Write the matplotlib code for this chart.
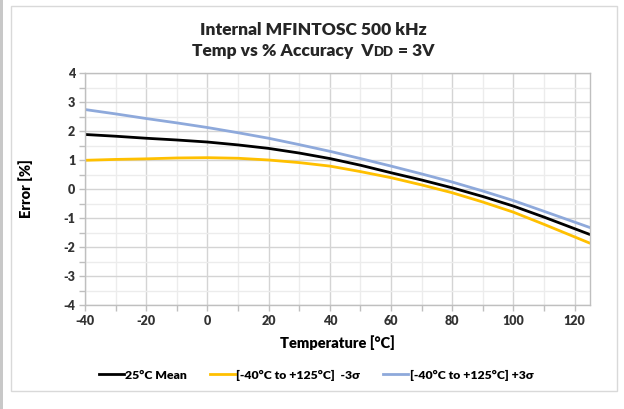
import matplotlib
matplotlib.use("Agg")
import matplotlib.pyplot as plt
from matplotlib.patches import Rectangle
from matplotlib.lines import Line2D
import numpy as np

temps = [-40, -30, -20, -10, 0, 10, 20, 30, 40, 50, 60, 70, 80, 90, 100, 110, 125]
mean_25c = [1.88, 1.82, 1.75, 1.69, 1.62, 1.52, 1.40, 1.24, 1.05, 0.82, 0.56, 0.31, 0.04, -0.26, -0.59, -0.97, -1.57]
minus_3s = [0.99, 1.02, 1.04, 1.07, 1.08, 1.06, 1.00, 0.91, 0.79, 0.60, 0.39, 0.14, -0.13, -0.45, -0.80, -1.22, -1.87]
plus_3s = [2.74, 2.59, 2.43, 2.28, 2.12, 1.94, 1.75, 1.53, 1.30, 1.05, 0.79, 0.52, 0.24, -0.07, -0.40, -0.77, -1.33]

series_labels = ["25°C Mean", "[-40°C to +125°C]  -3σ", "[-40°C to +125°C] +3σ"]
series_colors = ["#000000", "#FFC000", "#8EA9DB"]
x_ticks = [-40, -20, 0, 20, 40, 60, 80, 100, 120]
y_ticks = [-4, -3, -2, -1, 0, 1, 2, 3, 4]

FONT = ["Lato", "DejaVu Sans"]
plt.rcParams['font.family'] = FONT
plt.rcParams['axes.unicode_minus'] = False

W, H = 624, 409
fig = plt.figure(figsize=(W / 100, H / 100), dpi=100)

def fx(px):
    return px / W

def fy(py):
    return 1 - py / H

# outer borders
fig.patches.append(Rectangle((0, 0), fx(3), 1, transform=fig.transFigure,
                             facecolor="#c8c8c8", edgecolor="none"))
fig.patches.append(Rectangle((fx(11), fy(391)), fx(617 - 11), fy(6) - fy(391),
                             transform=fig.transFigure, facecolor="none",
                             edgecolor="#d9d9d9", linewidth=1.0))

ax = fig.add_axes([fx(85), fy(305), fx(590 - 85), fy(73) - fy(305)])

for vals, color, lab in zip([mean_25c, minus_3s, plus_3s], series_colors, series_labels):
    ax.plot(temps, vals, color=color, linewidth=2.0, label=lab, solid_capstyle="round")

ax.set_xlim(-40, 125)
ax.set_ylim(-4, 4)
ax.set_xticks(x_ticks)
ax.set_yticks(y_ticks)
ax.set_xticks(np.arange(-30, 125, 20), minor=True)
ax.set_yticks(np.arange(-3.5, 4, 1), minor=True)
ax.grid(which="major", color="#d4d4d4", linewidth=1.0)
ax.grid(which="minor", color="#ececec", linewidth=1.0)
ax.set_axisbelow(True)
for s in ax.spines.values():
    s.set_color("#bfbfbf")
    s.set_linewidth(1.0)
ax.tick_params(which="both", direction="out", color="#bfbfbf", length=4, width=1)
ax.tick_params(axis="both", which="major", labelsize=9, pad=3)
for lab in ax.get_xticklabels() + ax.get_yticklabels():
    lab.set_fontweight("heavy")
    lab.set_color("#333333")

ax.set_xlabel("Temperature [°C]", fontsize=10.5, fontweight="heavy", labelpad=6)
ax.set_ylabel("Error [%]", fontsize=10.5, fontweight="heavy", labelpad=22)

# title
fig.text(fx(313), fy(30), "Internal MFINTOSC 500 kHz", ha="center", va="center",
         fontsize=12.5, fontweight="heavy", color="#262626")
renderer = fig.canvas.get_renderer()
parts = [("Temp vs % Accuracy  V", 12.5), ("DD", 9.5), (" = 3V", 12.5)]
texts = []
for s, fs in parts:
    texts.append(fig.text(0, fy(50), s, ha="left", va="baseline", fontsize=fs,
                          fontweight="heavy", color="#262626"))
widths = [t.get_window_extent(renderer).width for t in texts]
total = sum(widths)
x0 = 313 - total / 2
base = fy(56)
for t, w in zip(texts, widths):
    t.set_position((fx(x0), base))
    x0 += w

handles = [Line2D([], [], color=c, linewidth=2.0) for c in series_colors]
fig.legend(handles, series_labels, loc="center", bbox_to_anchor=(fx(316), fy(375)),
           ncol=3, frameon=False, prop={"size": 8.8, "weight": "heavy"},
           handlelength=2.05, handletextpad=0.1, columnspacing=1.9)

fig.savefig("out.png", dpi=100)
